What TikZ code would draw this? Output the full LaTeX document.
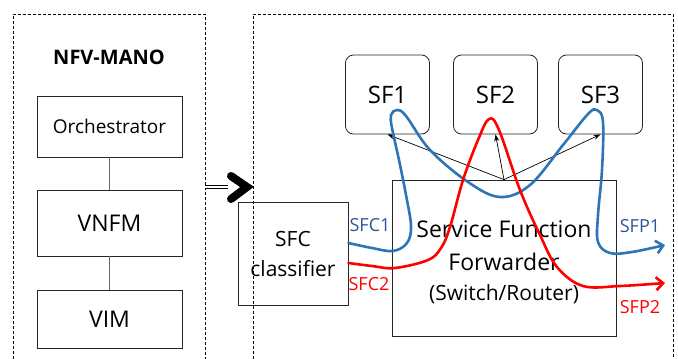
\documentclass[tikz,border=0pt]{standalone}
\usepackage{fontspec}
\setmainfont{Open Sans}
\usetikzlibrary{arrows.meta}

\definecolor{pathblue}{RGB}{46,117,182}
\definecolor{labelblue}{RGB}{47,85,151}
\definecolor{pathred}{RGB}{255,0,0}

\tikzset{
	frame/.style={draw=black, line width=0.8pt, dash pattern=on 3pt off 2pt},
	box/.style={draw=black!85, line width=0.8pt, align=center, inner sep=0pt},
	sfbox/.style={box, rounded corners=8pt, minimum width=84pt, minimum height=79pt,
		font=\fontsize{24}{24}\selectfont},
	chain/.style={line width=2.6pt, line cap=round, line join=round,
		-{Straight Barb[length=7pt, width=13pt, line width=2.6pt]}},
	chainlabel/.style={font=\fontsize{18}{18}\selectfont}
}

\begin{document}
\begin{tikzpicture}[x=1pt, y=-1pt, >={Stealth[length=7pt, width=5pt]}]
		\useasboundingbox (0,0) rectangle (678,359);

		% dashed frames, open at the bottom
		\draw [frame] (13,359) -- (13,14) -- (205,14) -- (205,359);
		\draw [frame] (253,359) -- (253,14) -- (673,14) -- (673,359);

		% management side
		\node [font=\bfseries\fontsize{20}{20}\selectfont] (mano) at (109,57) {NFV-MANO};
		\foreach \m/\y/\h/\s [count=\i] in {Orchestrator/126.5/61/19, VNFM/223/66/23, VIM/319/58/23}
			\node [box, minimum width=145pt, minimum height=\h pt, font=\fontsize{\s}{\s}\selectfont]
			(mano-\i) at (109.5,\y) {\m};

		\foreach \i/\j in {1/2, 2/3}
			\draw [black!60, line width=0.8pt] (mano-\i) -- (mano-\j);

		% fat arrow between the frames
		\coordinate (fat) at (228,187);
		\draw [double, double distance=2.5pt, line width=1pt] (205,187) -- (fat);
		\draw [line width=8pt, line cap=round, line join=miter] (fat) ++(3,-11) -- ++(16,11) -- ++(-16,12);

		% classifier and forwarder
		\node [box, minimum width=110pt, minimum height=103pt, font=\fontsize{21}{30}\selectfont]
		(cls) at (293,253.5) {SFC\\classifier};
		\node [box, minimum width=224pt, minimum height=156pt] (sff) at (504,258) {};
		\node [align=center, font=\fontsize{23}{33}\selectfont] (sff-text) at (504,262)
		{Service Function\\Forwarder\\[-3pt]{\fontsize{21}{21}\selectfont(Switch/Router)}};

		% service functions
		\foreach \x [count=\i] in {387.5, 495.5, 600.5}
			\node [sfbox] (sf-\i) at (\x,94.5) {SF\i};

		\foreach \i in {1,2,3}
			\draw [->, line width=0.7pt] (sff.north) -- (sf-\i.south);

		% service function paths
		\coordinate (sfc1) at ([yshift=10.5pt]cls.east);
		\coordinate (sfc2) at ([yshift=-9.5pt]cls.east);

		\draw [chain, pathblue] plot [smooth, tension=0.6] coordinates {
			(sfc1) (372,248) (393,251) (407,243) (411,226) (406,195) (399,160) (392,128)
			(391,115) (397,110) (406,116) (430,150) (468,182) (500,197) (530,185)
			(563,145) (588,114) (597,110) (603,122) (602,170) (598,215) (598,242)
			(610,253) (632,252) (665,245)};
		\draw [chain, pathred] plot [smooth, tension=0.6] coordinates {
			(sfc2) (372,266) (395,268) (428,260) (441,248) (450,227) (463,180) (478,140)
			(489,119) (499,130) (520,190) (540,235) (557,267) (583,286) (620,286) (665,283)};

		% path labels
		\node [chainlabel, labelblue] (sfc1-l) at (370,225) {SFC1};
		\node [chainlabel, pathred] (sfc2-l) at (369,284) {SFC2};
		\node [chainlabel, labelblue] (sfp1-l) at (640,226) {SFP1};
		\node [chainlabel, pathred] (sfp2-l) at (640,307) {SFP2};

\end{tikzpicture}
\end{document}
